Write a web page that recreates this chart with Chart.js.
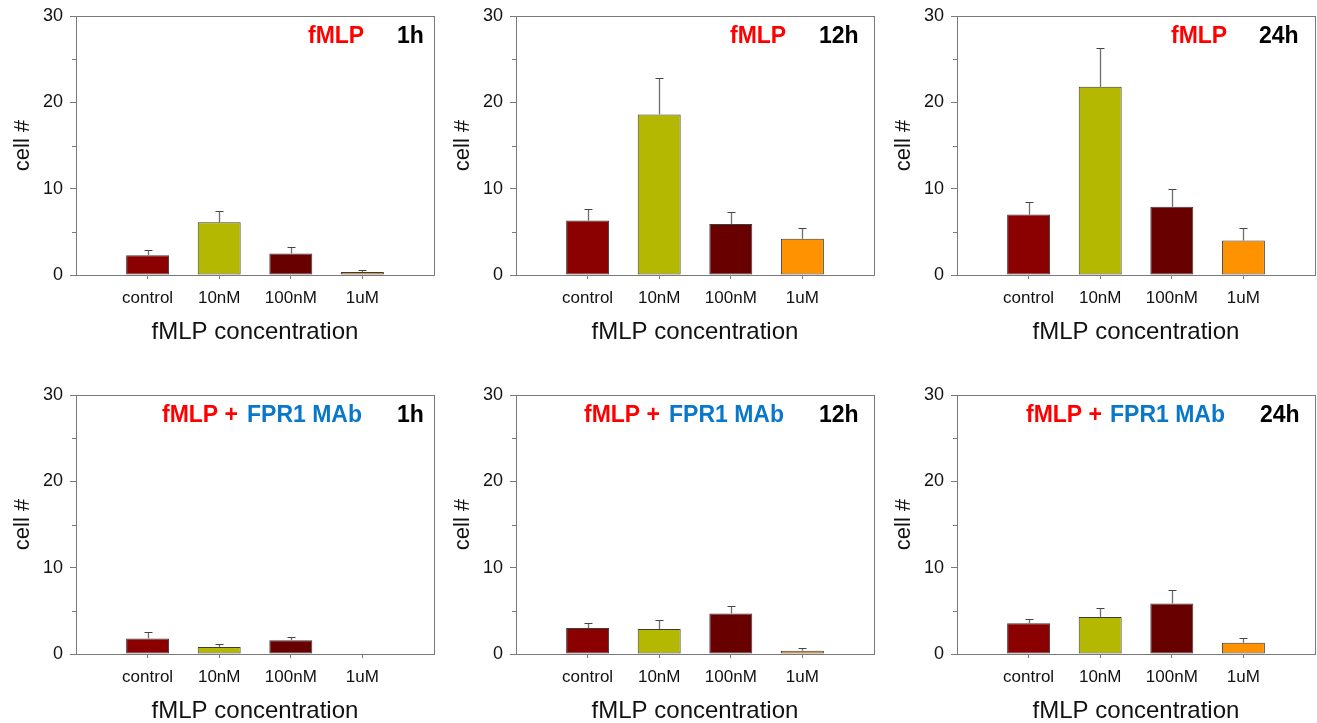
<!DOCTYPE html>
<html>
<head>
<meta charset="utf-8">
<script src="https://cdn.jsdelivr.net/npm/chart.js@4"></script>
<style>
  html, body { margin: 0; padding: 0; background: #fff; overflow: hidden; width: 1317px; height: 723px; }
  .panel { position: absolute; width: 440px; height: 344px; }
  canvas { display: block; }
</style>
</head>
<body>
<div class="panel" style="left:0px;top:0px"><canvas id="c1" width="440" height="344"></canvas></div>
<div class="panel" style="left:440px;top:0px"><canvas id="c2" width="440" height="344"></canvas></div>
<div class="panel" style="left:881px;top:0px"><canvas id="c3" width="440" height="344"></canvas></div>
<div class="panel" style="left:0px;top:379px"><canvas id="c4" width="440" height="344"></canvas></div>
<div class="panel" style="left:440px;top:379px"><canvas id="c5" width="440" height="344"></canvas></div>
<div class="panel" style="left:881px;top:379px"><canvas id="c6" width="440" height="344"></canvas></div>
<script>
// ---- data ----
const categories = ['control', '10nM', '100nM', '1uM'];
const times = ['1h', '12h', '24h'];
const yTicks = [0, 10, 20, 30];
const yMinorTicks = [5, 15, 25];
const xTitle = 'fMLP concentration';
const yTitle = 'cell #';

// fMLP alone (mean, upper error)
const fmlp1h = [2.3, 6.1, 2.5, 0.35];
const fmlp1hErr = [0.55, 1.3, 0.7, 0.25];
const fmlp12h = [6.3, 18.6, 5.9, 4.2];
const fmlp12hErr = [1.3, 4.2, 1.4, 1.3];
const fmlp24h = [7.0, 21.8, 7.9, 4.0];
const fmlp24hErr = [1.5, 4.5, 2.05, 1.4];

// fMLP + FPR1 MAb
const mab1h = [1.8, 0.8, 1.6, 0];
const mab1hErr = [0.77, 0.35, 0.35, 0];
const mab12h = [3.0, 2.9, 4.7, 0.38];
const mab12hErr = [0.6, 1.0, 0.9, 0.3];
const mab24h = [3.55, 4.3, 5.85, 1.3];
const mab24hErr = [0.47, 1.0, 1.6, 0.55];

const barColors = ['#8b0000', '#b5b800', '#680000', '#ff9200'];
const RED = '#ff0000', BLUE = '#0a78c8', BLACK = '#000000';
const FONT = "'Liberation Sans', Arial, sans-serif";

// ---- plugins ----
const framePlugin = {
  id: 'frame',
  afterDraw(chart) {
    const {ctx, chartArea: a, scales: {y}} = chart;
    ctx.save();
    ctx.strokeStyle = '#7a7a7a';
    ctx.lineWidth = 1;
    ctx.strokeRect(Math.round(a.left) + 0.5, Math.round(a.top) + 0.5,
                   Math.round(a.right - a.left), Math.round(a.bottom - a.top));
    // minor y ticks
    ctx.beginPath();
    yMinorTicks.forEach(v => {
      const py = Math.round(y.getPixelForValue(v)) + 0.5;
      ctx.moveTo(a.left - 4, py);
      ctx.lineTo(a.left, py);
    });
    ctx.stroke();
    ctx.restore();
  }
};

const errorBarPlugin = {
  id: 'errorBars',
  afterDatasetsDraw(chart, args, opts) {
    const {ctx, scales: {y}} = chart;
    const meta = chart.getDatasetMeta(0);
    const ds = chart.data.datasets[0];
    const errs = opts.errors || [];
    ctx.save();
    meta.data.forEach((bar, i) => {
      const v = ds.data[i];
      const e = errs[i];
      if (v == null || !e) return;
      const x = Math.round(bar.x) + 0.5;
      const y0 = y.getPixelForValue(v);
      const y1 = Math.round(y.getPixelForValue(v + e)) + 0.5;
      ctx.strokeStyle = '#6e6e6e';
      ctx.lineWidth = 1.3;
      ctx.beginPath();
      ctx.moveTo(x, y0);
      ctx.lineTo(x, y1);
      ctx.stroke();
      ctx.strokeStyle = '#444';
      ctx.lineWidth = 1;
      ctx.beginPath();
      ctx.moveTo(x - 4, y1);
      ctx.lineTo(x + 4, y1);
      ctx.stroke();
    });
    ctx.restore();
  }
};

const panelLabelPlugin = {
  id: 'panelLabel',
  afterDraw(chart, args, opts) {
    const {ctx} = chart;
    ctx.save();
    ctx.font = 'bold 23px ' + FONT;
    ctx.textBaseline = 'middle';
    ctx.textAlign = 'left';
    (opts.parts || []).forEach(p => {
      ctx.fillStyle = p.color;
      ctx.fillText(p.text, p.x, opts.y);
    });
    ctx.restore();
  }
};

function zeroPad(scale) {
  scale.paddingTop = 0; scale.paddingBottom = 0;
  scale.paddingLeft = 0; scale.paddingRight = 0;
}

function makePanel(id, values, errors, parts) {
  const labels = [''].concat(categories, ['']);
  const data = [null].concat(values, [null]);
  const errs = [0].concat(errors, [0]);
  const colors = ['rgba(0,0,0,0)'].concat(barColors, ['rgba(0,0,0,0)']);
  const last = labels.length - 1;
  return new Chart(document.getElementById(id), {
    type: 'bar',
    data: {
      labels: labels,
      datasets: [{
        data: data,
        backgroundColor: colors,
        borderColor: '#3c3c3c',
        borderWidth: 1,
        borderSkipped: false,
        categoryPercentage: 0.6,
        barPercentage: 1.0
      }]
    },
    plugins: [framePlugin, errorBarPlugin, panelLabelPlugin],
    options: {
      responsive: false,
      animation: false,
      events: [],
      layout: { padding: { top: 16, right: 6, left: 0, bottom: 0 } },
      plugins: {
        legend: { display: false },
        tooltip: { enabled: false },
        errorBars: { errors: errs },
        panelLabel: { parts: parts, y: 37 }
      },
      scales: {
        x: {
          type: 'category',
          offset: false,
          afterFit(scale) { scale.height = 69; zeroPad(scale); },
          grid: {
            offset: false,
            drawOnChartArea: false,
            drawTicks: true,
            tickLength: 4,
            tickColor: (c) => (c.index === 0 || c.index === last) ? 'rgba(0,0,0,0)' : '#7a7a7a'
          },
          border: { display: true, color: '#7a7a7a', width: 1 },
          ticks: {
            color: '#111',
            font: { family: FONT, size: 17 },
            padding: 9,
            maxRotation: 0,
            autoSkip: false
          },
          title: {
            display: true,
            text: xTitle,
            color: '#111',
            font: { family: FONT, size: 24, lineHeight: 1 },
            padding: { top: 0, bottom: 0 }
          }
        },
        y: {
          min: 0,
          max: 30,
          afterFit(scale) { scale.width = 76; zeroPad(scale); },
          afterBuildTicks(scale) { scale.ticks = yTicks.map(v => ({ value: v })); },
          grid: {
            drawOnChartArea: false,
            drawTicks: true,
            tickLength: 6,
            tickColor: '#7a7a7a'
          },
          border: { display: true, color: '#7a7a7a', width: 1 },
          ticks: {
            color: '#111',
            font: { family: FONT, size: 18 },
            padding: 7
          },
          title: {
            display: true,
            text: yTitle,
            color: '#111',
            font: { family: FONT, size: 22, lineHeight: 1.2 },
            padding: { top: 10, bottom: 0 }
          }
        }
      }
    }
  });
}

makePanel('c1', fmlp1h, fmlp1hErr, [
  { text: 'fMLP', color: RED, x: 308 }, { text: times[0], color: BLACK, x: 397 }]);
makePanel('c2', fmlp12h, fmlp12hErr, [
  { text: 'fMLP', color: RED, x: 290 }, { text: times[1], color: BLACK, x: 379 }]);
makePanel('c3', fmlp24h, fmlp24hErr, [
  { text: 'fMLP', color: RED, x: 290 }, { text: times[2], color: BLACK, x: 378 }]);
makePanel('c4', mab1h, mab1hErr, [
  { text: 'fMLP +', color: RED, x: 162 }, { text: 'FPR1 MAb', color: BLUE, x: 247 },
  { text: times[0], color: BLACK, x: 397 }]);
makePanel('c5', mab12h, mab12hErr, [
  { text: 'fMLP +', color: RED, x: 144 }, { text: 'FPR1 MAb', color: BLUE, x: 229 },
  { text: times[1], color: BLACK, x: 379 }]);
makePanel('c6', mab24h, mab24hErr, [
  { text: 'fMLP +', color: RED, x: 145 }, { text: 'FPR1 MAb', color: BLUE, x: 229 },
  { text: times[2], color: BLACK, x: 379 }]);
</script>
</body>
</html>
